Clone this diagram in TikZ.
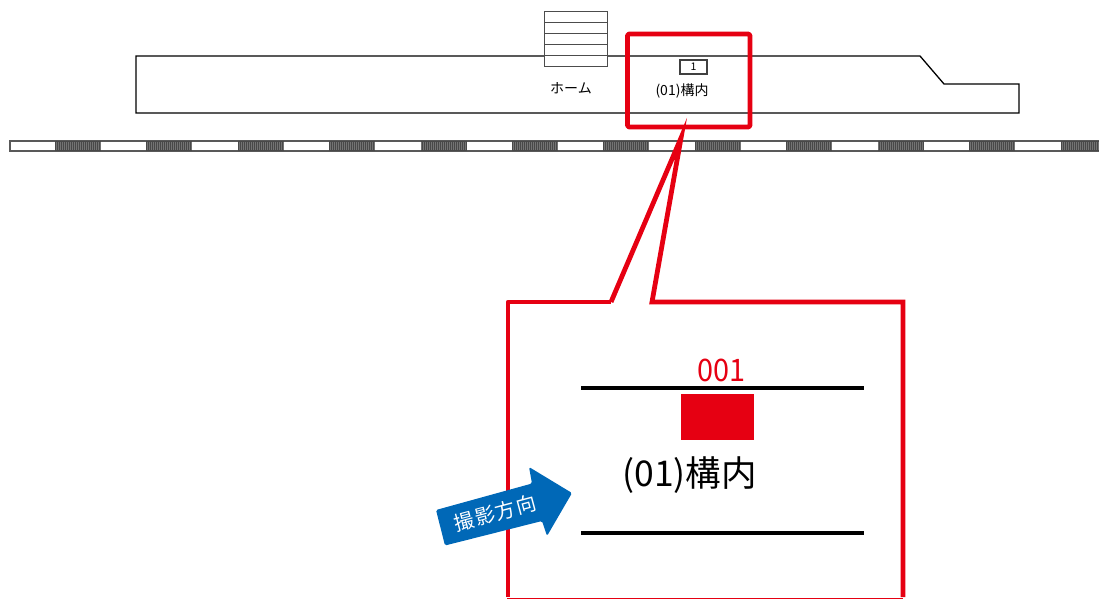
\documentclass[tikz,border=0pt]{standalone}
\usepackage{fontspec}
\setmainfont{Noto Sans CJK JP}
\definecolor{kred}{HTML}{E60012}
\definecolor{kblue}{HTML}{0068B7}
\definecolor{kdark}{HTML}{484848}
\tikzset{
  plan/.style={draw=black,line width=1.3pt},
  stairline/.style={draw=black!70,line width=1pt},
  redline/.style={draw=kred,line width=4.8pt,line join=round},
  heavy/.style={draw=black,line width=4pt},
  lab/.style={inner sep=0pt,font=\fontsize{14}{16}\selectfont},
}
\begin{document}
\begin{tikzpicture}[x=1pt,y=-1pt]
\useasboundingbox (0,0) rectangle (1099,599);
% platform
\draw[plan] (136,56) -- (920,56) -- (944,84) -- (1019,84) -- (1019,113) -- (136,113) -- cycle;
% stairs
\draw[stairline,fill=white] (544,12) rectangle (607,67);
\foreach \yy in {23,34,45,56} \draw[stairline] (544,\yy) -- (607,\yy);
\node[lab] (home) at (571,88) {ホーム};
\node[draw=black!75,line width=1.1pt,minimum width=27pt,minimum height=14pt,inner sep=0pt,font=\fontsize{10.5}{11}\selectfont] (one) at (693.5,67) {1};
\node[lab] (kounai) at (682,90.5) {(01)構内};
% track
\draw[draw=black!65,line width=1.2pt,fill=white] (10,141) rectangle (1099,151);
\foreach \xx in {55,146.4,237.8,329.2,420.6,512,603.4,694.8,786.2,877.6,969} {
  \fill[kdark] (\xx,141) rectangle (\xx+46,151);
  \foreach \dd in {1,3,...,45} \draw[black!55,line width=.6pt] (\xx+\dd,142) -- (\xx+\dd,150);
}
\fill[kdark] (1061,141) rectangle (1099,151);
\foreach \dd in {1,3,...,37} \draw[black!55,line width=.6pt] (1061+\dd,142) -- (1061+\dd,150);
% red frame
\draw[redline,rounded corners=1.5pt] (627.5,34) rectangle (750,127);
% callout
\draw[redline,line join=miter] (611,302) -- (681,138) -- (652,302) -- (903,302) -- (903,597);
\draw[redline] (508,597) -- (508,302) -- (611,302);
\draw[draw=kred,line width=1pt] (507,598) -- (903,598);
\node[inner sep=0pt,text=kred,font=\fontsize{31}{33}\selectfont,xscale=.93] (num) at (721.5,370) {001};
\draw[heavy] (581,387.5) -- (864,387.5);
\draw[heavy] (581,532.5) -- (864,532.5);
\fill[kred] (681,394) rectangle (753.5,439.5);
\node[inner sep=0pt,font=\fontsize{35.5}{37}\selectfont] (big) at (689.5,475) {(01)構内};
% direction arrow
\fill[kblue,rounded corners=1.5pt] (436,510) -- (532,483.5) -- (529,467) -- (572,493) -- (547,536) -- (542,521) -- (445,545.5) -- cycle;
\node[inner sep=0pt,text=white,rotate=15,font=\fontsize{20}{22}\selectfont\addfontfeature{LetterSpace=6}] (dir) at (495,513) {撮影方向};
\end{tikzpicture}
\end{document}
